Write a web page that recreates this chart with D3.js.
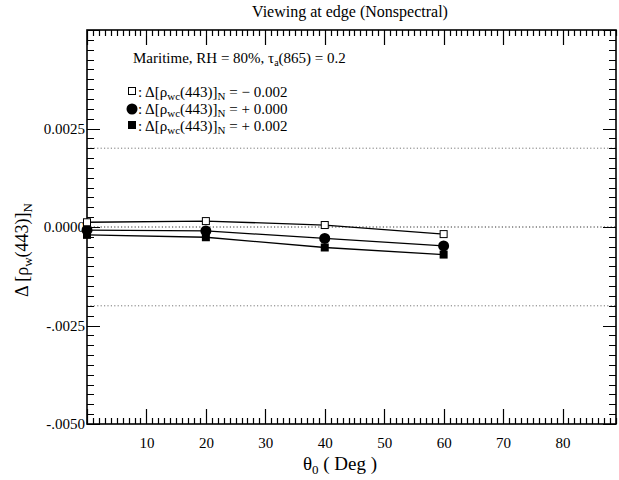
<!DOCTYPE html>
<html><head><meta charset="utf-8">
<script src="https://cdn.jsdelivr.net/npm/d3@7"></script>
<style>body{margin:0;background:#fff}svg{display:block}</style>
</head><body>
<svg id="c" width="619" height="480" xmlns="http://www.w3.org/2000/svg"></svg>
<script>
const angles = [0, 20, 40, 60];
const seriesNeg = [0.00012, 0.00015, 0.00005, -0.00018];   // open squares, -0.002
const seriesZero = [-0.00008, -0.0001, -0.00029, -0.00048]; // filled circles, +0.000
const seriesPos = [-0.0002, -0.00026, -0.00052, -0.0007];  // filled squares, +0.002
const refLines = [0.002, 0, -0.002];
const xTickLabels = [10, 20, 30, 40, 50, 60, 70, 80];
const yTickValues = [0.0025, 0, -0.0025, -0.005];
const yTickLabels = ["0.0025", "0.0000", "-.0025", "-.0050"];

const FONT = "'Liberation Serif', 'Times New Roman', Times, serif";
const L = 87, R = 616, T = 30, B = 424;
const svg = d3.select("#c");
const x = d3.scaleLinear().domain([0, 89]).range([L, R]);
const y = d3.scaleLinear().domain([-0.005, 0.005]).range([B, T]);

function txt(sel) { return sel.attr("font-family", FONT).attr("fill", "#000"); }

// reference dotted lines
svg.selectAll("line.ref").data(refLines).join("line").attr("class", "ref")
  .attr("x1", L).attr("x2", R).attr("y1", d => y(d)).attr("y2", d => y(d))
  .attr("stroke", d => d === 0 ? "#333" : "#777").attr("stroke-width", 1)
  .attr("stroke-dasharray", "1.2,2.2");

// frame
svg.append("rect").attr("x", L).attr("y", T).attr("width", R - L).attr("height", B - T)
  .attr("fill", "none").attr("stroke", "#000").attr("stroke-width", 1.6);

// ticks (minor every 1 deg / 0.00025, major every 10 deg / 0.0025), pointing inward on all sides
const xTickV = d3.range(0, 90, 1);
const yTickI = d3.range(-20, 21);
const p = d3.path();
xTickV.forEach(v => {
  const len = v % 10 === 0 ? 15 : 6;
  const px = Math.round(x(v)) + 0.5;
  p.moveTo(px, B); p.lineTo(px, B - len);
  p.moveTo(px, T); p.lineTo(px, T + len);
});
yTickI.forEach(i => {
  const len = i % 10 === 0 ? 13 : 7;
  const py = Math.round(y(i * 0.00025)) + 0.5;
  p.moveTo(L, py); p.lineTo(L + len, py);
  p.moveTo(R, py); p.lineTo(R - len, py);
});
svg.append("path").attr("d", p.toString()).attr("fill", "none")
  .attr("stroke", "#000").attr("stroke-width", 1.2);

// tick labels via axes (labels only)
svg.append("g").attr("transform", `translate(0,${B})`)
  .call(d3.axisBottom(x).tickValues(xTickLabels).tickSize(0).tickPadding(13))
  .call(g => { g.select(".domain").remove(); g.selectAll("text").attr("font-family", FONT).attr("fill", "#000").attr("font-size", 15); });
svg.append("g").attr("transform", `translate(${L},0)`)
  .call(d3.axisLeft(y).tickValues(yTickValues).tickSize(0).tickPadding(2)
        .tickFormat(d => yTickLabels[yTickValues.findIndex(v => Math.abs(v - d) < 1e-9)]))
  .call(g => { g.select(".domain").remove(); g.selectAll("text").attr("font-family", FONT).attr("fill", "#000").attr("font-size", 15); });

// lines + markers
const line = d3.line().x((d, i) => x(angles[i])).y(d => y(d));
[seriesNeg, seriesZero, seriesPos].forEach(s => {
  svg.append("path").attr("d", line(s)).attr("fill", "none").attr("stroke", "#000").attr("stroke-width", 1.3);
});
svg.selectAll("rect.sq").data(seriesPos).join("rect").attr("class", "sq")
  .attr("x", (d, i) => x(angles[i]) - 4).attr("y", d => y(d) - 4)
  .attr("width", 8).attr("height", 8).attr("fill", "#000");
svg.selectAll("circle.ci").data(seriesZero).join("circle").attr("class", "ci")
  .attr("cx", (d, i) => x(angles[i])).attr("cy", d => y(d)).attr("r", 5.5).attr("fill", "#000");
svg.selectAll("rect.os").data(seriesNeg).join("rect").attr("class", "os")
  .attr("x", (d, i) => x(angles[i]) - 3.5).attr("y", d => y(d) - 3.5)
  .attr("width", 7).attr("height", 7).attr("fill", "#fff").attr("stroke", "#000").attr("stroke-width", 1);

// title
txt(svg.append("text")).attr("x", 350).attr("y", 17).attr("text-anchor", "middle").attr("font-size", 16)
  .text("Viewing at edge (Nonspectral)");

// annotation
const ann = txt(svg.append("text")).attr("x", 133).attr("y", 63).attr("font-size", 15);
ann.append("tspan").text("Maritime, RH = 80%, τ");
ann.append("tspan").attr("font-size", 10).attr("dy", 3).text("a");
ann.append("tspan").attr("dy", -3).text("(865) = 0.2");

// legend
const legVals = ["= − 0.002", "= + 0.000", "= + 0.002"];
const legY = [97, 114, 131];
legVals.forEach((v, i) => {
  const t = txt(svg.append("text")).attr("x", 138).attr("y", legY[i]).attr("font-size", 15);
  t.append("tspan").text(": Δ[ρ");
  t.append("tspan").attr("font-size", 11).attr("dy", 3).text("wc");
  t.append("tspan").attr("dy", -3).text("(443)]");
  t.append("tspan").attr("font-size", 11).attr("dy", 3).text("N");
  t.append("tspan").attr("dy", -3).text(" " + v);
});
svg.append("rect").attr("x", 128.5).attr("y", legY[0] - 9.5).attr("width", 7).attr("height", 7)
  .attr("fill", "#fff").attr("stroke", "#000");
svg.append("circle").attr("cx", 132).attr("cy", legY[1] - 5).attr("r", 5.5).attr("fill", "#000");
svg.append("rect").attr("x", 128).attr("y", legY[2] - 10).attr("width", 8).attr("height", 8).attr("fill", "#000");

// y axis label
const yl = txt(svg.append("text")).attr("transform", "translate(28,250) rotate(-90)")
  .attr("text-anchor", "middle").attr("font-size", 18);
yl.append("tspan").text("Δ [ρ");
yl.append("tspan").attr("font-size", 13).attr("dy", 4).text("w");
yl.append("tspan").attr("dy", -4).text("(443)]");
yl.append("tspan").attr("font-size", 13).attr("dy", 4).text("N");

// x axis label
const xl = txt(svg.append("text")).attr("x", 340).attr("y", 470).attr("text-anchor", "middle").attr("font-size", 19);
xl.append("tspan").text("θ");
xl.append("tspan").attr("font-size", 13).attr("dy", 4).text("0");
xl.append("tspan").attr("dy", -4).text(" ( Deg  )");
</script>
</body></html>
